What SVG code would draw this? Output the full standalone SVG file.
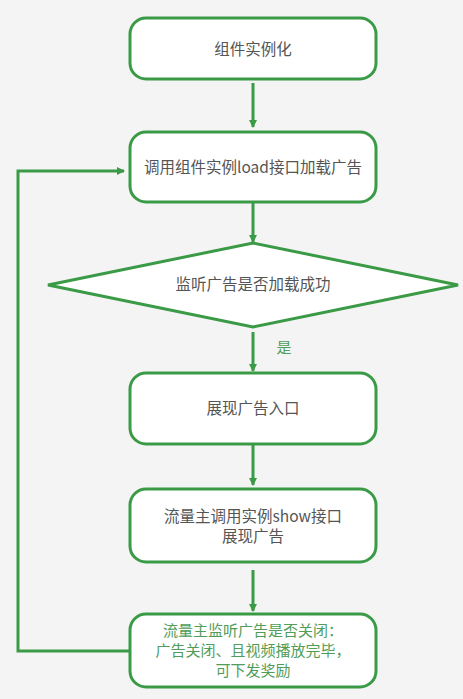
<svg xmlns="http://www.w3.org/2000/svg" width="463" height="699" viewBox="0 0 463 699">
<defs>
<style>
.box{fill:#ffffff;stroke:#3a9a46;stroke-width:3}
.ln{fill:none;stroke:#3a9a46;stroke-width:3}
.t{font-family:"Noto Sans CJK SC","Noto Sans",sans-serif;font-size:15.5px;fill:#555555;text-anchor:middle}
.g{fill:#4f9d58;font-size:15px}
</style>
<marker id="ah" markerWidth="8" markerHeight="8" refX="7" refY="4" orient="auto" markerUnits="userSpaceOnUse">
<path d="M0,0 L8,4 L0,8 Z" fill="#3a9a46"/>
</marker>
</defs>
<rect width="463" height="699" fill="#f4f4f4"/>
<g id="connectors">
<line class="ln" x1="253" y1="83" x2="253" y2="127" marker-end="url(#ah)"/>
<line class="ln" x1="253" y1="202" x2="253" y2="242" marker-end="url(#ah)"/>
<line class="ln" x1="253" y1="332" x2="253" y2="371" marker-end="url(#ah)"/>
<line class="ln" x1="253" y1="444" x2="253" y2="485" marker-end="url(#ah)"/>
<line class="ln" x1="253" y1="570" x2="253" y2="611" marker-end="url(#ah)"/>
<polyline class="ln" points="130,651 18,651 18,171 124,171" marker-end="url(#ah)"/>
<text class="t g" x="284" y="353">是</text>
</g>
<g id="n1">
<rect class="box" x="130" y="18" width="246" height="61" rx="16"/>
<text class="t" x="253" y="55">组件实例化</text>
</g>
<g id="n2">
<rect class="box" x="130" y="132" width="246" height="70" rx="16"/>
<text class="t" x="253" y="173">调用组件实例load接口加载广告</text>
</g>
<g id="n3">
<polygon class="box" points="253,243 458,285 253,327 48,285"/>
<text class="t" x="253" y="290">监听广告是否加载成功</text>
</g>
<g id="n4">
<rect class="box" x="130" y="373" width="246" height="71" rx="16"/>
<text class="t" x="253" y="414">展现广告入口</text>
</g>
<g id="n5">
<rect class="box" x="130" y="489" width="246" height="73" rx="16"/>
<text class="t" x="253" y="522">流量主调用实例show接口</text>
<text class="t" x="253" y="542">展现广告</text>
</g>
<g id="n6">
<rect class="box" x="130" y="614" width="246" height="73" rx="16"/>
<text class="t g" x="253" y="636">流量主监听广告是否关闭：</text>
<text class="t g" x="253" y="656">广告关闭、且视频播放完毕，</text>
<text class="t g" x="253" y="676">可下发奖励</text>
</g>
</svg>
